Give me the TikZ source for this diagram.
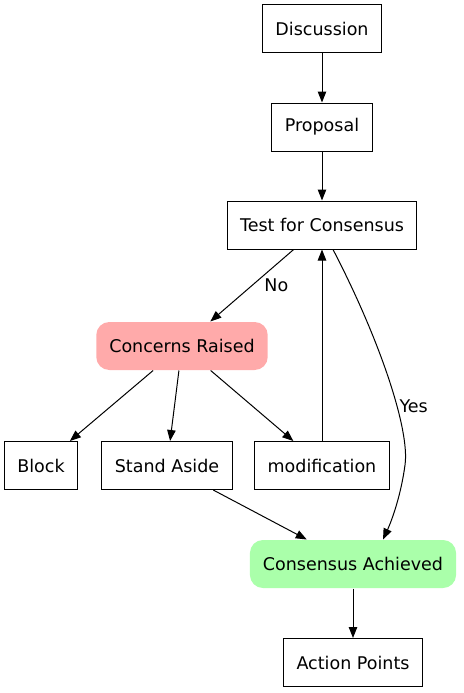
\documentclass[tikz,border=0pt]{standalone}
\usepackage{fontspec}
\setmainfont{DejaVu Sans}
\usetikzlibrary{arrows.meta}
\definecolor{concernred}{HTML}{FFAAAA}
\definecolor{agreegreen}{HTML}{AAFFAA}
\begin{document}
\begin{tikzpicture}[x=1pt,y=-1pt,line width=1pt,
    stage/.style={draw,minimum height=48pt,inner xsep=13pt,font=\fontsize{17.5pt}{20pt}\selectfont},
    outcome/.style={stage,draw=none,rounded corners=13pt},
    tag/.style={font=\fontsize{17.5pt}{20pt}\selectfont,inner sep=2pt},
    flow/.style={-{Triangle[length=11pt,width=8.5pt]}}]
                \useasboundingbox (0,0) rectangle (463,693);
                \node[stage] (discussion) at (322,28.5) {Discussion};
                \node[stage] (proposal) at (322,127) {Proposal};
                \node[stage] (test) at (322,225) {Test for Consensus};
                \node[outcome,fill=concernred] (concerns) at (182,346) {Concerns Raised};
                \node[stage] (block) at (41,465.5) {Block};
                \node[stage] (aside) at (167,465.5) {Stand Aside};
                \node[stage] (modification) at (322,465.5) {modification};
                \node[outcome,fill=agreegreen] (achieved) at (353,564) {Consensus Achieved};
                \node[stage] (actions) at (353,662.5) {Action Points};
                \draw[flow] (discussion) -- (proposal);
                \draw[flow] (proposal) -- (test);
                \draw[flow] (test) -- node[tag,right,pos=0.5,xshift=10pt] {No} (concerns);
                \draw[flow] (concerns) -- (block);
                \draw[flow] (concerns) -- (aside);
                \draw[flow] (concerns) -- (modification);
                \draw[flow] (modification) -- (test);
                \draw[flow] (aside) -- (achieved);
                \draw[flow] ([xshift=11pt]test.south) .. controls (380,340) and (410,430) .. (405,465)
                    node[tag,right,pos=0.63] {Yes}
                    .. controls (401,495) and (392,520) .. ([xshift=30pt]achieved.north);
                \draw[flow] (achieved) -- (actions);
            \end{tikzpicture}
\end{document}
